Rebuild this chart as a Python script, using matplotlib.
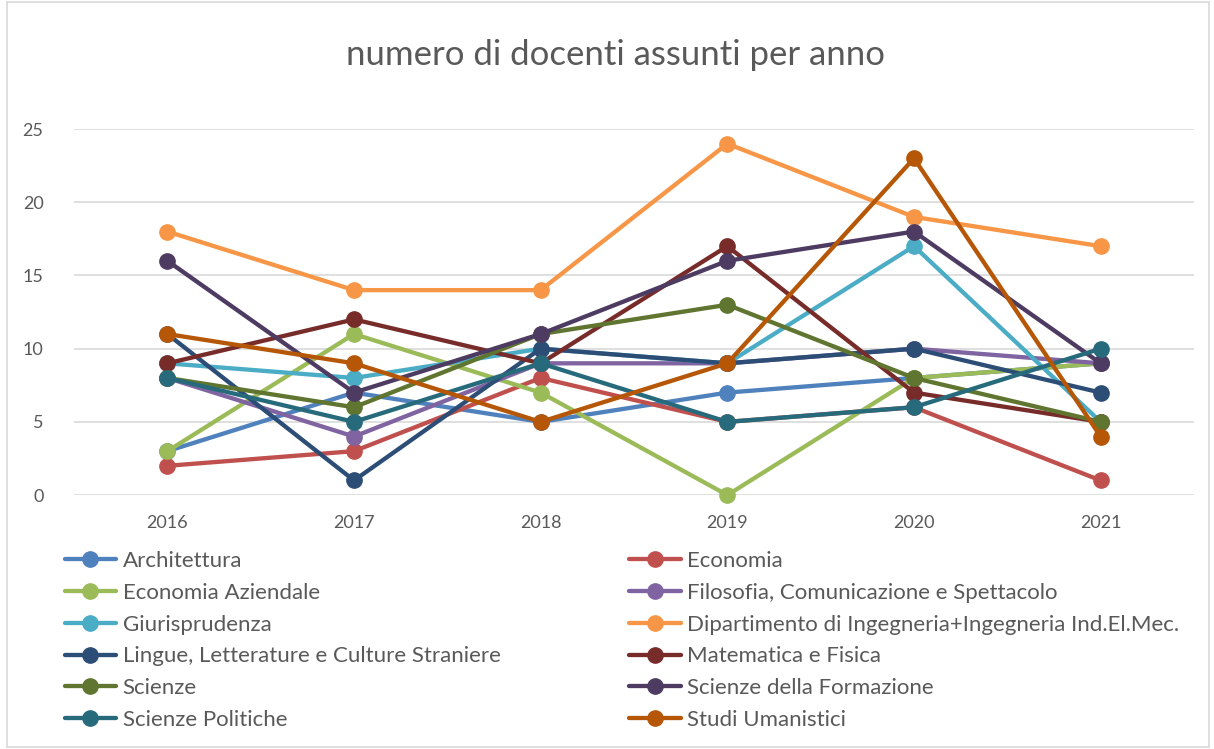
import numpy as np
import matplotlib
matplotlib.use("Agg")
import matplotlib.pyplot as plt
from matplotlib.patches import Rectangle

anni = ["2016", "2017", "2018", "2019", "2020", "2021"]

dipartimenti = [
    "Architettura",
    "Economia",
    "Economia Aziendale",
    "Filosofia, Comunicazione e Spettacolo",
    "Giurisprudenza",
    "Dipartimento di Ingegneria+Ingegneria Ind.El.Mec.",
    "Lingue, Letterature e Culture Straniere",
    "Matematica e Fisica",
    "Scienze",
    "Scienze della Formazione",
    "Scienze Politiche",
    "Studi Umanistici",
]

architettura = [3, 7, 5, 7, 8, 9]
economia = [2, 3, 8, 5, 6, 1]
economia_aziendale = [3, 11, 7, 0, 8, 9]
filosofia = [8, 4, 9, 9, 10, 9]
giurisprudenza = [9, 8, 10, 9, 17, 5]
ingegneria = [18, 14, 14, 24, 19, 17]
lingue = [11, 1, 10, 9, 10, 7]
matematica = [9, 12, 9, 17, 7, 5]
scienze = [8, 6, 11, 13, 8, 5]
formazione = [16, 7, 11, 16, 18, 9]
politiche = [8, 5, 9, 5, 6, 10]
umanistici = [11, 9, 5, 9, 23, 4]

valori = [architettura, economia, economia_aziendale, filosofia, giurisprudenza,
          ingegneria, lingue, matematica, scienze, formazione, politiche, umanistici]

colori = ["#4F81BD", "#C0504D", "#9BBB59", "#8064A2", "#4BACC6", "#F79646",
          "#2C4D75", "#772C2A", "#5F7530", "#4D3B62", "#276A7C", "#B65708"]

plt.rcParams['font.family'] = ['Lato', 'DejaVu Sans']
grigio = "#595959"

fig = plt.figure(figsize=(12.14, 7.49), dpi=100)
fig.patches.append(Rectangle((0.006, 0.003), 0.99, 0.994, transform=fig.transFigure,
                             fill=False, edgecolor="#D9D9D9", linewidth=1.2))

ax = fig.add_axes([0.061, 0.339, 0.9225, 0.4887])
x = np.arange(len(anni))
linee = []
for nome, vals, col in zip(dipartimenti, valori, colori):
    l, = ax.plot(x, vals, color=col, linewidth=3.1, marker='o', markersize=11,
                 label=nome, clip_on=False, solid_capstyle='round')
    linee.append(l)

ax.set_xlim(-0.5, len(anni) - 0.5)
ax.set_ylim(0, 25)
ax.set_yticks([0, 5, 10, 15, 20, 25])
ax.set_xticks(x)
ax.set_xticklabels(anni)
ax.tick_params(length=0, labelsize=13, colors=grigio, pad=14)
ax.tick_params(axis='y', pad=22)
ax.grid(axis='y', color="#D9D9D9", linewidth=1.2)
ax.set_axisbelow(True)
for s in ax.spines.values():
    s.set_visible(False)

fig.text(0.507, 0.927, "numero di docenti assunti per anno", ha='center', va='center',
         fontsize=25, color=grigio)

# legenda su due colonne, ordinata per righe
ordine = [0, 2, 4, 6, 8, 10, 1, 3, 5, 7, 9, 11]
leg = fig.legend([linee[i] for i in ordine], [dipartimenti[i] for i in ordine],
                 ncol=2, loc='upper left', bbox_to_anchor=(0.037, 0.291),
                 frameon=False, fontsize=16, handlelength=2.3, handletextpad=0.3,
                 labelspacing=0.53, columnspacing=5.8, labelcolor=grigio)

fig.savefig("out.png", dpi=100)
